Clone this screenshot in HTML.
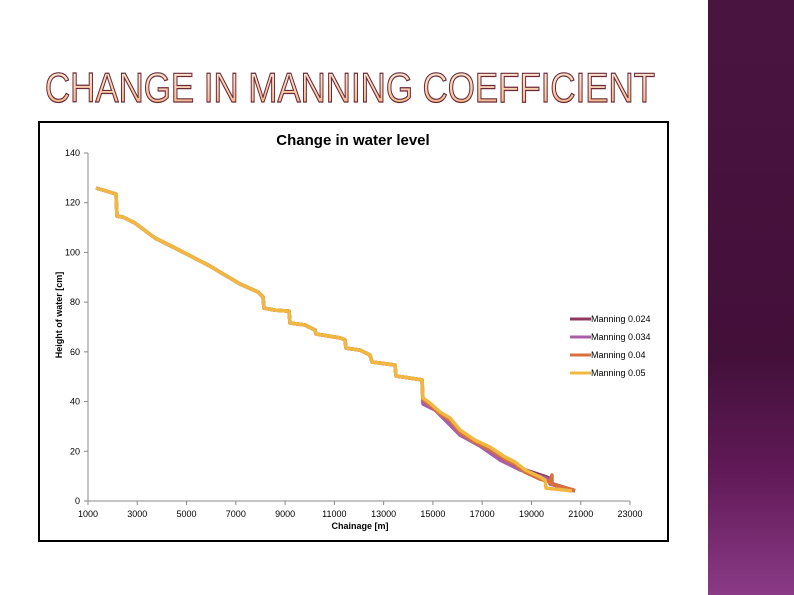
<!DOCTYPE html>
<html><head><meta charset="utf-8"><style>
body{margin:0;width:794px;height:595px;background:#fff;position:relative;overflow:hidden;font-family:"Liberation Sans",sans-serif}
#band{position:absolute;left:708px;top:0;width:86px;height:595px;background:linear-gradient(#4a1440 0%,#43103a 60%,#621a58 80%,#8a3a86 100%)}
</style></head><body>
<div id="band"></div>
<svg width="794" height="120" style="position:absolute;left:0;top:0">
<defs><linearGradient id="tg" x1="0" y1="0" x2="0" y2="1"><stop offset="0" stop-color="#fff2e6"/><stop offset="1" stop-color="#f4b07a"/></linearGradient></defs>
<text x="45" y="102" font-size="42" font-family="Liberation Sans, sans-serif" textLength="610" lengthAdjust="spacingAndGlyphs" fill="url(#tg)" stroke="#6a2a3a" stroke-width="1.2">CHANGE IN MANNING COEFFICIENT</text>
</svg>
<svg id="chart" width="794" height="595" style="position:absolute;left:0;top:0">
<rect x="39" y="122" width="629" height="419" fill="#fff" stroke="#000" stroke-width="2"/>
</svg>
<script>
const xTicks=[1000,3000,5000,7000,9000,11000,13000,15000,17000,19000,21000,23000];
const yTicks=[0,20,40,60,80,100,120,140];
const seriesNames=["Manning 0.024","Manning 0.034","Manning 0.04","Manning 0.05"];
const colors=["#8e3a5e","#a760a8","#d7703a","#f0b840"];
const yX=[1325,2137,2177,2421,2908,3720,4532,5952,7170,7900,8103,8144,8590,9159,9199,9808,10214,10255,11229,11432,11472,12040,12446,12527,13461,13502,14557,14598,14882,15288,15694,16100,16708,17317,17926,18332,18738,19347,19550,19590,20361,20645];
const yY=[125.9,123.5,114.6,114.2,111.8,105.8,101.8,94.5,87.3,84.1,82.1,77.6,76.8,76.4,71.6,70.8,68.8,67.2,65.6,64.8,61.5,60.7,58.7,55.9,54.7,50.3,48.7,41.4,39.4,35.8,33.4,28.6,24.5,21.7,17.7,15.7,12.5,9.7,8.4,5.2,4.4,4.0];
const pX=[1325,2137,2177,2421,2908,3720,4532,5952,7170,7900,8103,8144,8590,9159,9199,9808,10214,10255,11229,11432,11472,12040,12446,12527,13461,13502,14557,14598,15085,15491,16100,16911,17723,18535,19550,19753,19753,20767];
const pY=[125.9,123.5,114.6,114.2,111.8,105.8,101.8,94.5,87.3,84.1,82.1,77.6,76.8,76.4,71.6,70.8,68.8,67.2,65.6,64.8,61.5,60.7,58.7,55.9,54.7,50.3,48.7,39.0,36.6,32.6,26.5,22.1,16.5,12.5,9.3,8.4,6.8,4.0];
const dY=[125.9,123.5,114.6,114.2,111.8,105.8,101.8,94.5,87.3,84.1,82.1,77.6,76.8,76.4,71.6,70.8,68.8,67.2,65.6,64.8,61.5,60.7,58.7,55.9,54.7,50.3,48.7,39.6,37.2,33.2,27.2,22.8,17.2,13.2,9.9,9.0,7.2,4.2];
const oX=[1325,2137,2177,2421,2908,3720,4532,5952,7170,7900,8103,8144,8590,9159,9199,9808,10214,10255,11229,11432,11472,12040,12446,12527,13461,13502,14557,14598,14882,15288,15694,16100,16708,17317,17926,18332,18738,19347,19753,19834,19834,20767];
const oY=[125.9,123.5,114.6,114.2,111.8,105.8,101.8,94.5,87.3,84.1,82.1,77.6,76.8,76.4,71.6,70.8,68.8,67.2,65.6,64.8,61.5,60.7,58.7,55.9,54.7,50.3,48.7,40.8,38.6,35.0,32.6,27.6,23.6,20.8,16.8,14.8,11.6,8.8,7.6,10.5,6.8,4.2];
const NS="http://www.w3.org/2000/svg";
const svg=document.getElementById('chart');
const sx=v=>88+(v-1000)/22000*542;
const sy=v=>501-v/140*348;
function el(t,a,txt){const e=document.createElementNS(NS,t);for(const k in a)e.setAttribute(k,a[k]);if(txt!==undefined)e.textContent=txt;svg.appendChild(e);return e;}
let e=el('line',{x1:88,y1:153,x2:88,y2:501,stroke:'#888'});

e=el('line',{x1:88,y1:501,x2:630,y2:501,stroke:'#888'});

yTicks.forEach(v=>{el('line',{x1:84,x2:88,y1:sy(v),y2:sy(v),stroke:'#888'});
const t=el('text',{x:80,y:sy(v)+3,'font-size':9,'text-anchor':'end',fill:'#000'},v);
});
xTicks.forEach(v=>{el('line',{x1:sx(v),x2:sx(v),y1:501,y2:505,stroke:'#888'});
const t=el('text',{x:sx(v),y:517,'font-size':9,'text-anchor':'middle',fill:'#000'},v);
});
e=el('text',{x:353,y:145,'font-size':15,'font-weight':'bold','text-anchor':'middle'},'Change in water level');

e=el('text',{x:360,y:529,'font-size':9,'font-weight':'bold','text-anchor':'middle'},'Chainage [m]');

e=el('text',{x:0,y:0,'font-size':9,'font-weight':'bold','text-anchor':'middle',transform:'translate(62,315) rotate(-90)'},'Height of water [cm]');

const data=[[pX,dY],[pX,pY],[oX,oY],[yX,yY]];
data.forEach((d,i)=>{const pts=d[0].map((x,j)=>sx(x).toFixed(1)+','+sy(d[1][j]).toFixed(1)).join(' ');
const p=el('polyline',{points:pts,fill:'none',stroke:colors[i],'stroke-width':3.5,'stroke-linejoin':'round'});
});
seriesNames.forEach((n,i)=>{const y=319+i*18;
const l=el('line',{x1:570,x2:591,y1:y,y2:y,stroke:colors[i],'stroke-width':3});

const t=el('text',{x:591,y:y+3,'font-size':9},n);
});
</script>
</body></html>
